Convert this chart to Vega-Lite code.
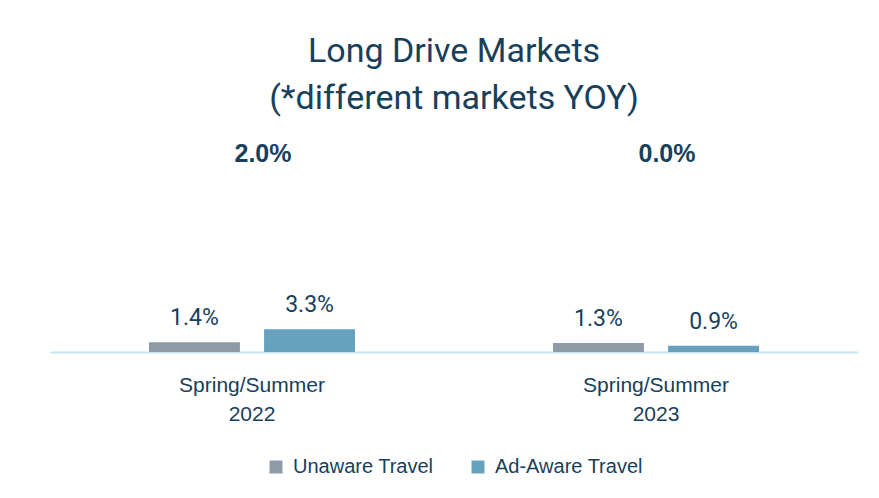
{
  "$schema": "https://vega.github.io/schema/vega-lite/v6.json",
  "width": 808,
  "height": 207,
  "padding": {"left": 50, "top": 34, "right": 0, "bottom": 0},
  "background": "white",
  "title": {
    "text": ["Long Drive Markets", "(*different markets YOY)"],
    "font": "Roboto",
    "fontSize": 34,
    "fontWeight": "normal",
    "lineHeight": 47,
    "color": "#17405c",
    "anchor": "middle",
    "offset": 26
  },
  "datasets": {
    "bars": [
      {"period": "Spring/Summer|2022", "series": "Unaware Travel", "value": 1.4, "label": "1.4%"},
      {"period": "Spring/Summer|2022", "series": "Ad-Aware Travel", "value": 3.3, "label": "3.3%"},
      {"period": "Spring/Summer|2023", "series": "Unaware Travel", "value": 1.3, "label": "1.3%"},
      {"period": "Spring/Summer|2023", "series": "Ad-Aware Travel", "value": 0.9, "label": "0.9%"}
    ],
    "diffs": [
      {"period": "Spring/Summer|2022", "diff": "2.0%"},
      {"period": "Spring/Summer|2023", "diff": "0.0%"}
    ]
  },
  "layer": [
    {
      "data": {"name": "bars"},
      "mark": {"type": "bar"},
      "encoding": {
        "x": {
          "field": "period", "type": "nominal", "sort": null,
          "scale": {"paddingInner": 0, "paddingOuter": 0},
          "axis": {
            "title": null,
            "labelAngle": 0,
            "labelExpr": "split(datum.value, '|')",
            "labelFont": "Liberation Sans, Arial, sans-serif",
            "labelFontSize": 21,
            "labelLineHeight": 29,
            "labelColor": "#17405c",
            "labelPadding": 22,
            "ticks": false,
            "domainColor": "#c2e4f3",
            "domainWidth": 2
          }
        },
        "xOffset": {
          "field": "series", "type": "nominal",
          "sort": ["Unaware Travel", "Ad-Aware Travel"],
          "scale": {"paddingInner": 0.21, "paddingOuter": 0.86}
        },
        "y": {
          "field": "value", "type": "quantitative",
          "scale": {"domain": [0, 30]},
          "axis": null
        },
        "color": {
          "field": "series", "type": "nominal",
          "scale": {"domain": ["Unaware Travel", "Ad-Aware Travel"], "range": ["#8e9aa6", "#66a2be"]},
          "legend": {
            "title": null,
            "orient": "bottom",
            "direction": "horizontal",
            "symbolType": "square",
            "symbolSize": 169,
            "symbolStrokeWidth": 0,
            "labelFont": "Liberation Sans, Arial, sans-serif",
            "labelFontSize": 20,
            "labelColor": "#17405c",
            "labelOffset": 7,
            "columnPadding": 34,
            "offset": 33
          }
        }
      }
    },
    {
      "data": {"name": "bars"},
      "mark": {
        "type": "text",
        "font": "Roboto",
        "fontSize": 23,
        "color": "#17405c",
        "baseline": "alphabetic",
        "dy": -17
      },
      "encoding": {
        "x": {"field": "period", "type": "nominal", "sort": null},
        "xOffset": {"field": "series", "type": "nominal", "sort": ["Unaware Travel", "Ad-Aware Travel"]},
        "y": {"field": "value", "type": "quantitative"},
        "text": {"field": "label"}
      }
    },
    {
      "data": {"name": "diffs"},
      "mark": {
        "type": "text",
        "font": "Liberation Sans, Arial, sans-serif",
        "fontSize": 25,
        "fontWeight": "bold",
        "color": "#17405c",
        "baseline": "middle",
        "dx": 11
      },
      "encoding": {
        "x": {"field": "period", "type": "nominal", "sort": null},
        "y": {"datum": 28.7, "type": "quantitative"},
        "text": {"field": "diff"}
      }
    }
  ],
  "config": {
    "view": {"stroke": null},
    "legend": {"layout": {"bottom": {"anchor": "middle"}}}
  }
}
